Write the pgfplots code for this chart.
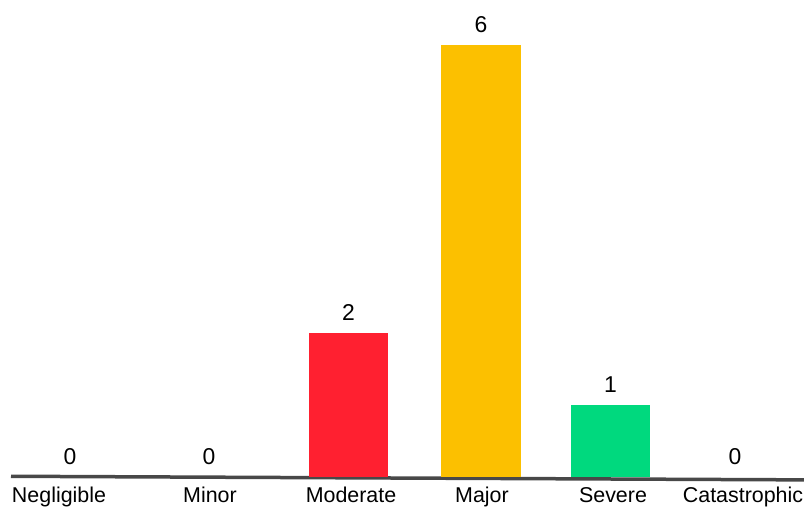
\documentclass[border=0pt]{standalone}
\usepackage{pgfplots}
\pgfplotsset{compat=1.18}
\usepackage{fontspec}
\setmainfont{Liberation Sans}
\definecolor{cRed}{RGB}{255,32,48}
\definecolor{cYellow}{RGB}{252,192,0}
\definecolor{cGreen}{RGB}{0,217,126}
\definecolor{cBase}{RGB}{72,72,72}
\begin{document}
\begin{tikzpicture}
\begin{axis}[
  name=ax,
  width=804bp, height=507bp, scale only axis,
  xmin=0, xmax=804,
  ymin=-0.4167, ymax=6.625,
  axis line style={draw=none},
  ytick=\empty,
  xtick={59,210,351,482,613,743},
  xticklabels={Negligible,Minor,Moderate,Major,Severe,Catastrophic},
  major tick length=0pt,
  xticklabel style={anchor=base, yshift=4.5bp, font=\fontsize{21.5}{26}\selectfont},
  clip=false,
  /pgf/number format/assume math mode=true,
  nodes near coords,
  every node near coord/.append style={anchor=base, yshift=12bp,
    font=\fontsize{23}{28}\selectfont, text=black},
]
% baseline
\addplot[cBase, line width=3.5bp, nodes near coords=] coordinates {(11,0.01) (804,-0.04)};
% zero-valued categories
\addplot[ybar, bar width=79, draw=none, fill=none] coordinates {(70,0) (209,0) (735,0)};
% non-zero categories
\addplot[ybar, bar width=79, draw=none, fill=cRed]    coordinates {(348.5,2)};
\addplot[ybar, bar width=80, draw=none, fill=cYellow] coordinates {(481,6)};
\addplot[ybar, bar width=79, draw=none, fill=cGreen]  coordinates {(610.5,1)};
\end{axis}
\pgfresetboundingbox
\useasboundingbox (ax.south west) rectangle (ax.north east);
\end{tikzpicture}
\end{document}
